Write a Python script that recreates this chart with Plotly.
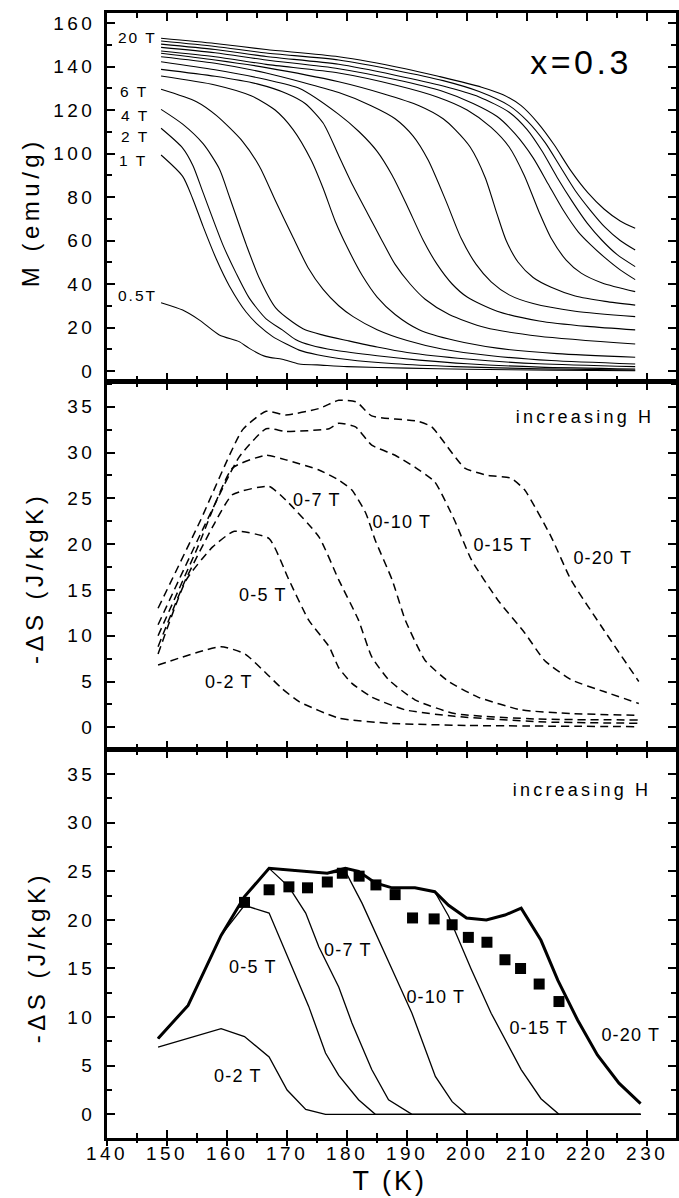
import plotly.graph_objects as go

# ---------------- data: top panel, M(T) curves (emu/g) ----------------
m_T01 = [149, 158, 166.5, 178.6, 189.7, 195.2, 202.4, 206, 209, 211.8, 214.5, 217.3, 220.1, 222.8, 225.5, 228]
m_M01 = [153, 150.6, 147.8, 144.5, 139, 135.5, 130.5, 127, 122, 114, 104, 92, 82, 74.5, 69, 65.6]
m_T02 = [149, 158, 166.5, 178.6, 188, 196, 202, 207, 210, 213, 215.5, 218, 220.5, 223, 225.5, 228]
m_M02 = [151.7, 149.2, 146.2, 143, 138.3, 133.5, 128.5, 122, 115, 105, 94, 83, 74, 66, 60, 55.6]
m_T03 = [149, 158, 166.5, 178.6, 188, 196, 202, 207, 210, 212.5, 215, 217.5, 220, 222.5, 225, 228]
m_M03 = [150.3, 147.8, 144.6, 141, 136, 131, 126, 119, 111, 101, 89, 78, 68, 60, 53.5, 48]
m_T04 = [149, 158, 166.5, 178.6, 188, 196, 201, 205, 208, 211, 213.5, 216, 218.5, 220.6, 223, 225.5, 228]
m_M04 = [148.8, 146.3, 143, 139, 134, 128.5, 123, 117, 109, 98, 86, 74, 64, 58, 52, 46.5, 42]
m_T05 = [149, 158, 166.5, 178.6, 188, 195, 200, 204, 207, 209.5, 212, 214, 216.5, 219, 222.5, 228]
m_M05 = [147.1, 144.5, 141, 137, 131.5, 126, 120, 112, 103, 90, 73, 61, 51, 45, 40.5, 36.5]
m_T06 = [149, 158, 166.5, 178.6, 186, 192, 196, 198, 200.5, 203, 205, 206.5, 208.5, 211, 214, 218, 223, 228]
m_M06 = [146.1, 143, 139.5, 133, 127.5, 122, 116, 111, 103, 89, 72, 60, 50, 43, 38.5, 34.5, 32, 30.3]
m_T07 = [149, 158, 166.5, 178.6, 184, 188, 191, 193.5, 196.5, 199, 201.5, 204, 207, 211, 218, 228]
m_M07 = [144.5, 141.5, 137, 128, 122, 116, 108, 97, 78, 61, 49, 41, 35, 31, 27.5, 25]
m_T08 = [149, 158, 166.5, 172, 178.6, 182, 185, 187.5, 190, 192.7, 195, 197.5, 200, 205, 212, 220, 228]
m_M08 = [142.2, 138.5, 134, 130, 118, 110, 101, 90, 76, 60, 49, 40, 34, 27.5, 23, 20.5, 18.9]
m_T09 = [149, 158, 165, 170, 173, 176, 178.6, 181, 183.5, 185.8, 188, 190.5, 193, 197, 203, 212, 228]
m_M09 = [138.7, 135.5, 132, 127.5, 123, 114, 99, 85, 72, 60, 49, 40, 33, 26, 20, 16, 12.4]
m_T10 = [149, 158, 164, 168, 171, 174, 176, 178, 180, 182.5, 185, 188, 192, 198, 205, 215, 228]
m_M10 = [135.6, 131.5, 126.5, 120, 111, 97, 84, 69, 57, 44, 34, 26, 19, 14, 10.5, 8, 6.3]
m_T11 = [149, 154.9, 158.2, 162.6, 165.4, 168.1, 170.9, 173.5, 176, 178.6, 181, 185, 190, 196, 204, 214, 228]
m_M11 = [129.5, 123.8, 117.5, 105.5, 94, 78, 62, 47.5, 37.5, 30, 25, 19, 14, 10, 7, 4.8, 3.2]
m_T12 = [149, 152.6, 156, 158.7, 160.4, 163.2, 165.4, 168.1, 170.9, 173.1, 176, 180, 185, 190, 200, 212, 228]
m_M12 = [120.3, 113.5, 104.5, 93, 80, 58, 42.5, 29, 22.5, 18.8, 16.5, 14, 11, 8.5, 5.5, 3.3, 2.0]
m_T13 = [149, 152.6, 154.3, 156, 159.3, 161.5, 163.7, 166.5, 169.2, 171.4, 174, 178, 185, 192, 200, 212, 228]
m_M13 = [111.6, 102.5, 94.5, 82, 58, 45, 33.5, 24, 18.9, 14.5, 11.8, 9.5, 7, 5, 3.3, 1.8, 0.9]
m_T14 = [149, 152.6, 154.3, 156, 158.2, 160.4, 163.2, 165.4, 167.6, 169.8, 172, 175, 180, 188, 198, 212, 228]
m_M14 = [99.3, 89.5, 79, 66.5, 51.5, 39, 27, 20.6, 15.8, 12.5, 9.6, 7.5, 5.3, 3.3, 2, 1, 0.4]
m_T15 = [149, 152.6, 155.4, 158.7, 162, 163.7, 166.5, 169.2, 172, 175, 180, 190, 200, 214, 228]
m_M15 = [31.4, 28, 23.4, 16.6, 13.5, 10.4, 6.6, 5.4, 3.2, 2.8, 2.0, 1.3, 0.8, 0.4, 0.1]

top_labels = ["20 T", "6 T", "4 T", "2 T", "1 T", "0.5T"]
top_label_T = [145.06, 144.56, 144.73, 144.73, 144.39, 145.22]
top_label_M = [153.3, 128.3, 117.7, 108.0, 96.6, 34.5]

# ---------------- data: middle panel, -dS (J/kgK) ----------------
d_T20 = [148.5, 155.5, 162.6, 166.5, 169.8, 175.3, 178.6, 181.6, 184.1, 191.9, 194.1, 199.6, 203.5, 207.3, 209.6, 214, 217.3, 222.8, 228.6]
d_S20 = [13.0, 22.5, 32.5, 34.5, 34.1, 34.8, 35.7, 35.5, 34.0, 33.4, 32.8, 28.3, 27.5, 27.2, 25.9, 20.8, 16.1, 10.6, 5.0]
d_T15 = [148.5, 155.5, 162, 166.5, 169.8, 177, 178.6, 181.4, 184.1, 188, 191.3, 194.6, 197.9, 200.7, 205.1, 209.6, 212.9, 217.3, 222.8, 228.6]
d_S15 = [11.2, 21, 29.5, 32.6, 32.3, 32.6, 33.2, 32.8, 30.8, 29.7, 28.4, 26.8, 22.6, 18.3, 13.9, 10.3, 7.3, 5.2, 3.9, 2.6]
d_T10 = [148.5, 155, 160.9, 166.5, 169.8, 175.3, 178.6, 180.8, 183.1, 184.7, 187.5, 189.7, 193, 196.9, 201.8, 209, 217.3, 228.6]
d_S10 = [10.0, 19.5, 28.3, 29.7, 29.2, 28.1, 27.0, 25.9, 23.4, 20.4, 16.1, 11.7, 7.3, 5.0, 3.3, 1.9, 1.5, 1.3]
d_T07 = [148.5, 153, 157.6, 160.9, 167, 169.8, 175.3, 178.6, 181.9, 184.1, 186.9, 191.3, 197.9, 211.8, 228.6]
d_S07 = [8.8, 16, 21.9, 25.4, 26.3, 24.8, 20.8, 16.1, 11.7, 7.7, 5.2, 3.0, 1.5, 0.9, 0.8]
d_T05 = [148.5, 153.2, 157.6, 161.2, 167, 170.3, 173.6, 177, 178.6, 180.8, 184.1, 189.7, 197.9, 212, 228.6]
d_S05 = [8.0, 16.1, 19.7, 21.4, 20.6, 16.1, 11.7, 8.8, 6.5, 4.8, 3.3, 1.9, 1.2, 0.6, 0.44]
d_T02 = [148.5, 159, 163, 166.5, 169.2, 172, 178.6, 186.9, 200, 228.6]
d_S02 = [6.8, 8.8, 8.0, 5.9, 4.2, 2.8, 1.0, 0.44, 0.2, 0.07]

mid_labels = ["0-2 T", "0-5 T", "0-7 T", "0-10 T", "0-15 T", "0-20 T", "increasing H"]
mid_label_T = [160.38, 165.93, 175.05, 189.21, 205.95, 222.68, 219.62]
mid_label_S = [4.95, 14.44, 24.81, 22.41, 19.90, 18.48, 33.88]

# ---------------- data: bottom panel ----------------
b_T20 = [148.5, 153.5, 159, 162.9, 167, 176.7, 179.7, 181.9, 184.7, 187.5, 191.3, 194.6, 196.9, 199.9, 203.2, 206.3, 209, 212.3, 215.1, 218.4, 221.7, 225.3, 228.9]
b_S20 = [7.8, 11.2, 18.4, 22.4, 25.3, 24.8, 25.3, 25.0, 23.8, 23.3, 23.3, 22.9, 21.5, 20.2, 20.0, 20.5, 21.2, 17.9, 13.8, 9.7, 6.1, 3.2, 1.1]
b_T15 = [148.5, 153.5, 159, 162.9, 167, 176.7, 179.7, 181.9, 184.7, 187.5, 191.3, 194.6, 196.9, 200.7, 204, 209, 212.3, 215.3, 228.9]
b_S15 = [7.8, 11.2, 18.4, 22.4, 25.3, 24.8, 25.3, 25.0, 23.8, 23.3, 23.3, 22.9, 20.4, 14.9, 10.4, 4.6, 1.6, 0, 0]
b_T10 = [148.5, 153.5, 159, 162.9, 167, 176.7, 179.7, 182.5, 187.5, 190.8, 194.7, 197.5, 199.9, 228.9]
b_S10 = [7.8, 11.2, 18.4, 22.4, 25.3, 24.8, 25.0, 21.7, 14.9, 10.4, 3.9, 1.3, 0, 0]
b_T07 = [148.5, 153.5, 159, 162.9, 167, 170.3, 173.1, 175.3, 178.6, 180.8, 184.1, 186.9, 190.8, 228.9]
b_S07 = [7.8, 11.2, 18.4, 22.4, 25.3, 23.4, 20.7, 17.2, 13.1, 9.4, 4.6, 1.5, 0, 0]
b_T05 = [148.5, 153.5, 159, 162.9, 167, 170.3, 173.6, 176.4, 178.6, 181.9, 184.7, 228.9]
b_S05 = [7.8, 11.2, 18.4, 21.5, 20.7, 15.9, 11.1, 6.3, 4.0, 1.5, 0, 0]
b_T02 = [148.5, 159, 162.9, 167, 170, 173.1, 176.4, 228.9]
b_S02 = [6.9, 8.8, 8.0, 5.9, 2.5, 0.5, 0, 0]

sq_T = [162.9, 167, 170.3, 173.4, 176.7, 179.2, 182, 184.8, 188, 190.9, 194.5, 197.5, 200.2, 203.3, 206.3, 208.9, 212, 215.3]
sq_S = [21.8, 23.1, 23.4, 23.3, 23.9, 24.8, 24.5, 23.6, 22.6, 20.2, 20.1, 19.5, 18.2, 17.7, 15.9, 15.0, 13.4, 11.6]

bot_labels = ["0-2 T", "0-5 T", "0-7 T", "0-10 T", "0-15 T", "0-20 T", "increasing H"]
bot_label_T = [161.87, 164.27, 180.18, 194.85, 211.91, 227.33, 219.21]
bot_label_S = [3.94, 15.19, 16.90, 12.07, 8.88, 8.16, 33.36]

x_ticks = [140, 150, 160, 170, 180, 190, 200, 210, 220, 230]

# ---------------- figure ----------------
FONT = "Liberation Sans, Arial, sans-serif"
fig = go.Figure()

top_T = [m_T01, m_T02, m_T03, m_T04, m_T05, m_T06, m_T07, m_T08, m_T09, m_T10, m_T11, m_T12, m_T13, m_T14, m_T15]
top_M = [m_M01, m_M02, m_M03, m_M04, m_M05, m_M06, m_M07, m_M08, m_M09, m_M10, m_M11, m_M12, m_M13, m_M14, m_M15]
for tt, mm in zip(top_T, top_M):
    fig.add_trace(go.Scatter(x=tt, y=mm, mode="lines", xaxis="x", yaxis="y",
                             line=dict(color="black", width=1.1, shape="spline", smoothing=0.7),
                             showlegend=False, hoverinfo="skip"))

for tt, ss in [(d_T20, d_S20), (d_T15, d_S15), (d_T10, d_S10), (d_T07, d_S07), (d_T05, d_S05), (d_T02, d_S02)]:
    fig.add_trace(go.Scatter(x=tt, y=ss, mode="lines", xaxis="x2", yaxis="y2",
                             line=dict(color="black", width=1.5, dash="8px,5px", shape="spline", smoothing=0.5),
                             showlegend=False, hoverinfo="skip"))

for tt, ss in [(b_T15, b_S15), (b_T10, b_S10), (b_T07, b_S07), (b_T05, b_S05), (b_T02, b_S02)]:
    fig.add_trace(go.Scatter(x=tt, y=ss, mode="lines", xaxis="x3", yaxis="y3",
                             line=dict(color="black", width=1.3),
                             showlegend=False, hoverinfo="skip"))
fig.add_trace(go.Scatter(x=b_T20, y=b_S20, mode="lines", xaxis="x3", yaxis="y3",
                         line=dict(color="black", width=3),
                         showlegend=False, hoverinfo="skip"))
fig.add_trace(go.Scatter(x=sq_T, y=sq_S, mode="markers", xaxis="x3", yaxis="y3",
                         marker=dict(symbol="square", size=11, color="black"),
                         showlegend=False, hoverinfo="skip"))
# empty trace so the overlay axis for outer bottom ticks is created
fig.add_trace(go.Scatter(x=[], y=[], xaxis="x4", yaxis="y3", showlegend=False, hoverinfo="skip"))

XR = [139.99, 234.8]
tickfont = dict(family=FONT, size=19, color="black")


def xax(anchor, labels=False):
    d = dict(range=XR, domain=[0, 1], anchor=anchor, showgrid=False, zeroline=False,
             showline=True, linewidth=2.6, linecolor="black", mirror="ticks",
             ticks="inside", ticklen=8, tickwidth=2, tickcolor="black",
             tickvals=x_ticks, ticktext=[str(v) for v in x_ticks], showticklabels=labels,
             minor=dict(ticks="inside", ticklen=5, tickwidth=2, tickcolor="black", dtick=5, tick0=140))
    if labels:
        d["tickfont"] = tickfont
        d["ticklabelstandoff"] = -4
    return d


def yax(rng, dom, dt, mdt, anchor):
    return dict(range=rng, domain=dom, anchor=anchor, showgrid=False, zeroline=False,
                showline=True, linewidth=2.6, linecolor="black", mirror="ticks",
                ticks="inside", ticklen=8, tickwidth=2, tickcolor="black",
                tick0=0, dtick=dt, tickfont=tickfont, ticklabelstandoff=5,
                minor=dict(ticks="inside", ticklen=5, tickwidth=2, tickcolor="black", dtick=mdt, tick0=0))


ya1 = yax([-4.6, 164.6], [0.67289, 1.0], 20, 10, "x")
ya2 = yax([-2.37, 37.70], [0.34578, 0.67200], 5, 2.5, "x2")
ya3 = yax([-2.44, 37.48], [0.0, 0.34489], 5, 2.5, "x3")

xa4 = dict(range=XR, domain=[0, 1], overlaying="x3", anchor="y3", side="bottom",
           showgrid=False, zeroline=False, showline=False,
           ticks="outside", ticklen=7, tickwidth=2, tickcolor="black",
           tickvals=x_ticks, showticklabels=False,
           minor=dict(ticks="outside", ticklen=4, tickwidth=2, tickcolor="black", dtick=5, tick0=140))

annotations = []
for lab, tv, mval in zip(top_labels, top_label_T, top_label_M):
    annotations.append(dict(x=tv, y=mval, xref="x", yref="y", text=lab, showarrow=False,
                            xanchor="center", yanchor="middle", font=dict(family=FONT, size=15.5, color="black")))
annotations.append(dict(x=219.05, y=142.1, xref="x", yref="y", text="x=0.3", showarrow=False,
                        xanchor="center", yanchor="middle", font=dict(family=FONT, size=34, color="black")))
for lab, tv, sv in zip(mid_labels, mid_label_T, mid_label_S):
    annotations.append(dict(x=tv, y=sv, xref="x2", yref="y2", text=lab, showarrow=False,
                            xanchor="center", yanchor="middle", font=dict(family=FONT, size=18, color="black")))
for lab, tv, sv in zip(bot_labels, bot_label_T, bot_label_S):
    annotations.append(dict(x=tv, y=sv, xref="x3", yref="y3", text=lab, showarrow=False,
                            xanchor="center", yanchor="middle", font=dict(family=FONT, size=18, color="black")))
# axis titles
annotations.append(dict(x=-0.1355, y=0.8231, xref="paper", yref="paper", text="M (emu/g)", showarrow=False,
                        textangle=-90, xanchor="center", yanchor="middle", font=dict(family=FONT, size=24, color="black")))
annotations.append(dict(x=-0.1259, y=0.4978, xref="paper", yref="paper", text="-\u0394S (J/kgK)", showarrow=False,
                        textangle=-90, xanchor="center", yanchor="middle", font=dict(family=FONT, size=24, color="black")))
annotations.append(dict(x=-0.1230, y=0.1604, xref="paper", yref="paper", text="-\u0394S (J/kgK)", showarrow=False,
                        textangle=-90, xanchor="center", yanchor="middle", font=dict(family=FONT, size=24, color="black")))
annotations.append(dict(x=0.4965, y=-0.0385, xref="paper", yref="paper", text="T (K)", showarrow=False,
                        xanchor="center", yanchor="middle", font=dict(family=FONT, size=27, color="black")))

fig.update_layout(
    width=679, height=1198,
    margin=dict(l=107, r=0, t=13, b=60, pad=0),
    paper_bgcolor="white", plot_bgcolor="white",
    xaxis=xax("y"), xaxis2=xax("y2"), xaxis3=xax("y3", labels=True), xaxis4=xa4,
    yaxis=ya1, yaxis2=ya2, yaxis3=ya3,
    annotations=annotations, showlegend=False,
)

post = r"""
var gd = document.getElementById('{plot_id}');
var special = {'x=0.3': 3.5, 'increasing H': 3.2, 'M (emu/g)': 4.5, '-\u0394S (J/kgK)': 4.5, 'T (K)': 3};
function spacing(){
  gd.querySelectorAll('text.annotation-text').forEach(function(t){
    var s = t.textContent;
    var v = special.hasOwnProperty(s) ? special[s] : (s.indexOf('0-') === 0 ? 1.2 : 2);
    t.style.letterSpacing = v + 'px';
  });
  gd.querySelectorAll('.xaxislayer-above text, .yaxislayer-above text').forEach(function(t){
    t.style.letterSpacing = '3.5px';
  });
}
spacing();
gd.on('plotly_afterplot', spacing);
setTimeout(spacing, 50);
"""

fig.write_html("out.html", post_script=post)
